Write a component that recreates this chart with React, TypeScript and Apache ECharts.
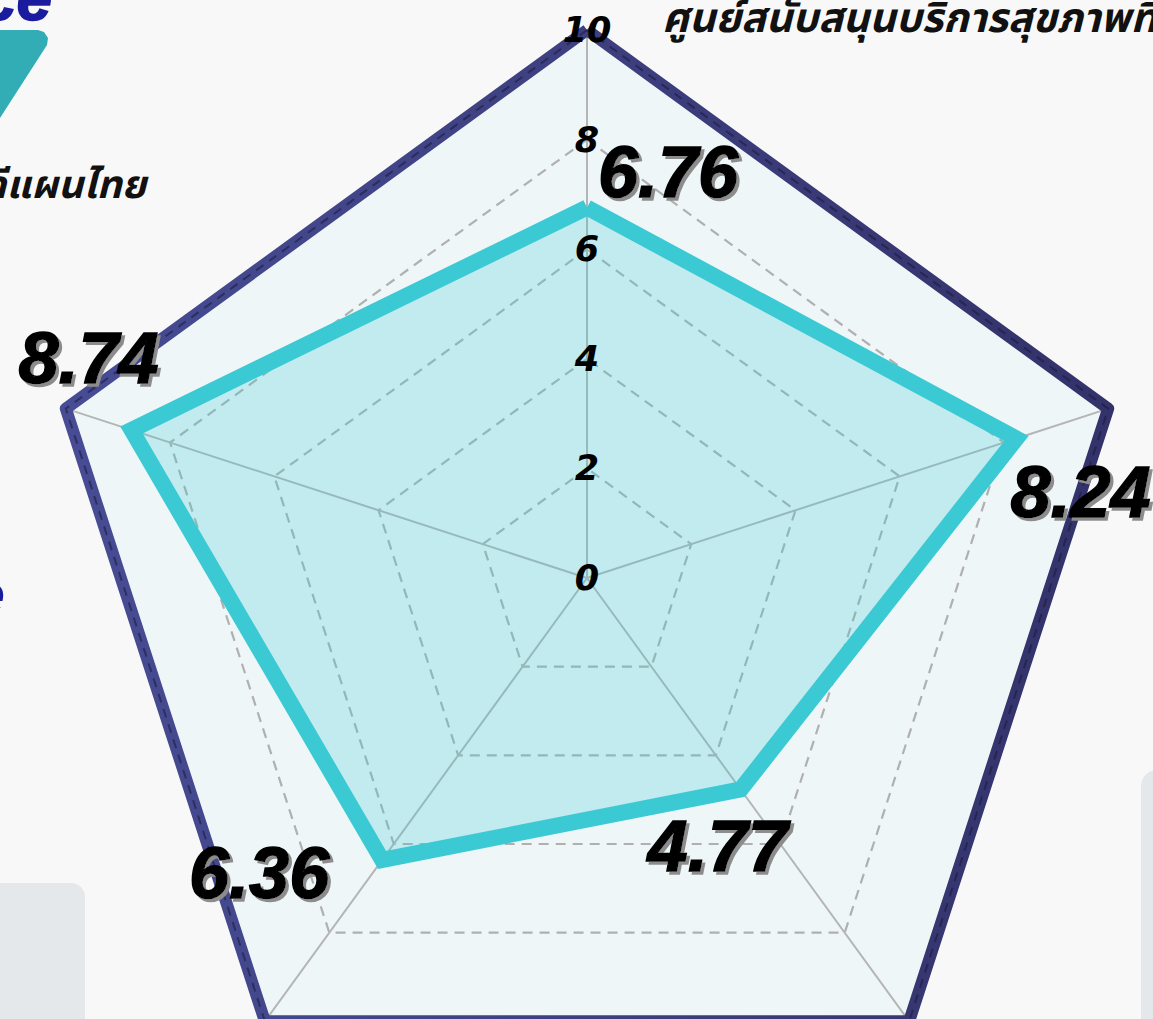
import React, { useEffect, useRef } from "react";
import * as echarts from "echarts";

// ---- data ----
const indicatorNames = ["ด้านที่ 1", "ด้านที่ 2", "ด้านที่ 3", "ด้านที่ 4", "ด้านที่ 5"];
const scoreValues = [6.76, 8.74, 6.36, 4.77, 8.24];
const outerRingValues = [10, 10, 10, 10, 10];
const axisMin = 0;
const axisMax = 10;
const axisSplitNumber = 5;
const titleRight = "ศูนย์สนับสนุนบริการสุขภาพที่";
const titleLeft = "วิถีแผนไทย";

// label offsets (layout only)
const labelOffsets: [number, number][] = [
  [81, -36],
  [-43, -72],
  [-123, 13],
  [-23, 57],
  [64, 54],
];

const CENTER: [number, number] = [587, 578];
const RADIUS = 548;

export default function App() {
  const ref = useRef<HTMLDivElement>(null);
  useEffect(() => {
    if (!ref.current) return;
    const chart = echarts.init(ref.current, undefined, { renderer: "svg" });

    const navy = new echarts.graphic.LinearGradient(0, 0, 1, 0, [
      { offset: 0, color: "#474c94" },
      { offset: 1, color: "#33326a" },
    ]);

    const labelSeries = scoreValues.map((v, i) => ({
      type: "radar" as const,
      radarIndex: 0,
      z: 5,
      symbol: "circle",
      symbolSize: 1,
      itemStyle: { color: "transparent" },
      lineStyle: { opacity: 0, width: 0 },
      silent: true,
      label: {
        show: true,
        position: "inside",
        offset: labelOffsets[i],
        formatter: (p: any) => {
          const val = Array.isArray(p.value) ? p.value[i] : p.value;
          return val === v ? Number(val).toFixed(2) : "";
        },
        fontSize: 72,
        fontWeight: "bold",
        fontStyle: "italic",
        fontFamily: "Liberation Sans, Arial, sans-serif",
        color: "#000",
        textBorderColor: "#000",
        textBorderWidth: 1.5,
        textShadowColor: "#8c8c8c",
        textShadowOffsetX: 3,
        textShadowOffsetY: 3,
        textShadowBlur: 0.01,
      },
      data: [{ value: scoreValues }],
    }));

    chart.setOption({
      animation: false,
      backgroundColor: "#f8f8f8",
      graphic: [
        {
          type: "rect",
          z: -10,
          shape: { x: -20, y: 883, width: 105, height: 200, r: 14 },
          style: { fill: "#e4e8eb" },
        },
        {
          type: "rect",
          z: -10,
          shape: { x: 1141, y: 770, width: 60, height: 300, r: 16 },
          style: { fill: "#e4e8eb" },
        },
        {
          type: "polygon",
          z: -10,
          shape: {
            points: [
              [-10, 30],
              [38, 30],
              [44, 32],
              [48, 38],
              [47, 45],
              [0, 118],
              [-10, 118],
            ],
          },
          style: { fill: "#32adb5" },
        },
        {
          type: "text",
          z: -10,
          style: {
            text: "nce",
            x: 52,
            y: 30,
            align: "right",
            verticalAlign: "bottom",
            font: "italic bold 64px 'Liberation Sans', sans-serif",
            fill: "#1b1ba0",
            stroke: "#1b1ba0",
            lineWidth: 1.5,
            shadowColor: "#9a9a9a",
            shadowOffsetX: 3,
            shadowOffsetY: 3,
          },
        },
        {
          type: "text",
          z: -10,
          style: {
            text: "ce",
            x: 5,
            y: 624,
            align: "right",
            verticalAlign: "bottom",
            font: "italic bold 60px 'Liberation Sans', sans-serif",
            fill: "#1b1ba0",
            shadowColor: "#9a9a9a",
            shadowOffsetX: 3,
            shadowOffsetY: 3,
          },
        },
        {
          type: "text",
          z: -10,
          style: {
            text: titleRight,
            x: 662,
            y: 19,
            align: "left",
            verticalAlign: "middle",
            font: "italic bold 41px 'Noto Sans Thai', 'Noto Sans', sans-serif",
            fill: "#111",
          },
        },
        {
          type: "text",
          z: -10,
          style: {
            text: titleLeft,
            x: 146,
            y: 186,
            align: "right",
            verticalAlign: "middle",
            font: "italic bold 39px 'Noto Sans Thai', 'Noto Sans', sans-serif",
            fill: "#111",
          },
        },
      ],
      radar: [
        {
          center: CENTER,
          radius: RADIUS,
          startAngle: 90,
          splitNumber: axisSplitNumber,
          shape: "polygon",
          indicator: indicatorNames.map((n) => ({ name: n, min: axisMin, max: axisMax })),
          axisName: { show: false },
          axisLine: { lineStyle: { color: "#b5b5b5", width: 2 } },
          splitLine: { lineStyle: { color: "#b0b0b0", width: 2.2, type: [10, 7] } },
          splitArea: { show: true, areaStyle: { color: ["#eff6f8"] } },
          axisLabel: { show: false },
          axisTick: { show: false },
        },
        {
          center: CENTER,
          radius: RADIUS,
          startAngle: 90,
          splitNumber: axisSplitNumber,
          shape: "polygon",
          z: 10,
          indicator: indicatorNames.map((n, i) => ({
            name: n,
            min: axisMin,
            max: axisMax,
            axisLabel: { show: i === 0 },
          })),
          axisName: { show: false },
          axisLine: { show: false },
          splitLine: { show: false },
          splitArea: { show: false },
          axisTick: { show: false },
          axisLabel: {
            show: true,
            margin: 0,
            align: "center",
            verticalAlign: "middle",
            fontSize: 35,
            fontWeight: "bold",
            fontStyle: "italic",
            fontFamily: "DejaVu Sans, sans-serif",
            color: "#000",
          },
        },
      ],
      series: [
        {
          type: "radar",
          radarIndex: 0,
          z: 2,
          symbol: "none",
          silent: true,
          lineStyle: { color: navy, width: 12, join: "round" },
          data: [{ value: outerRingValues }],
        },
        {
          type: "radar",
          radarIndex: 0,
          z: 3,
          symbol: "none",
          silent: true,
          lineStyle: { color: "rgba(25,25,60,0.55)", width: 2, type: [9, 7] },
          data: [{ value: outerRingValues }],
        },
        {
          type: "radar",
          radarIndex: 0,
          z: 4,
          symbol: "none",
          lineStyle: { color: "#3bcad4", width: 16, join: "miter" },
          areaStyle: { color: "#3bcad4", opacity: 0.25 },
          data: [{ value: scoreValues }],
        },
        ...labelSeries,
      ],
    });
    return () => chart.dispose();
  }, []);
  return (
    <div
      ref={ref}
      style={{ position: "absolute", left: 0, top: 0, width: 1153, height: 1019 }}
    />
  );
}
